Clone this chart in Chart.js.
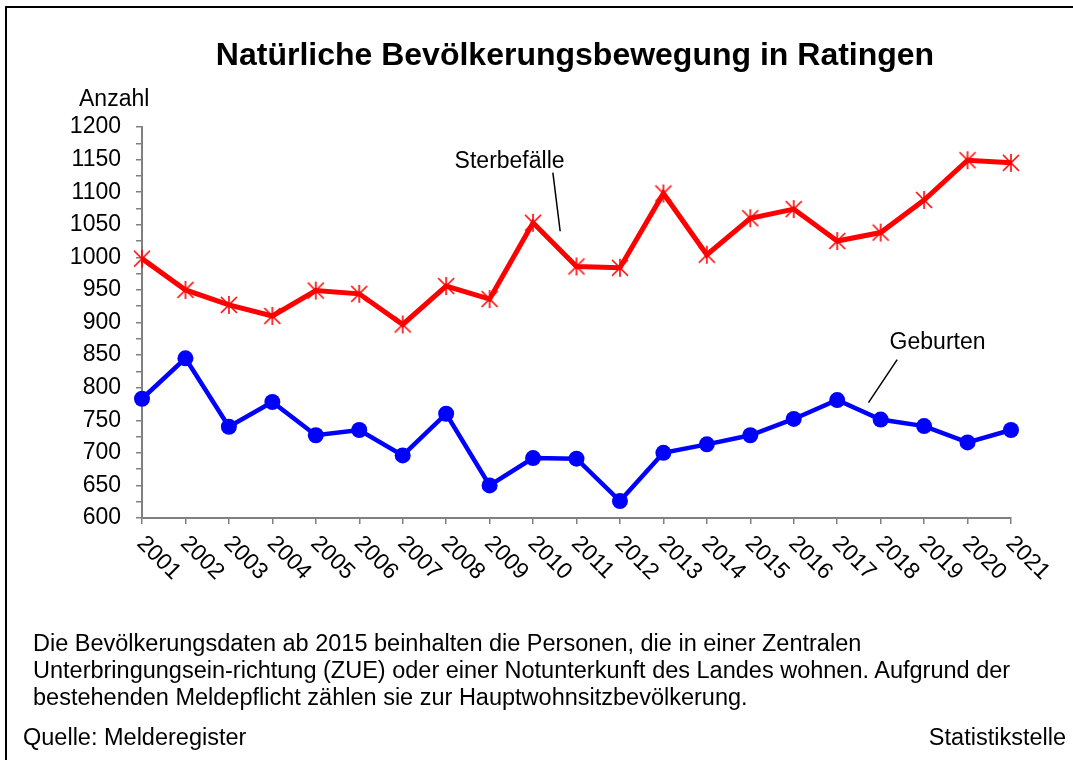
<!DOCTYPE html>
<html>
<head>
<meta charset="utf-8">
<script src="https://cdn.jsdelivr.net/npm/chart.js@4.4.0/dist/chart.umd.min.js"></script>
<style>
body { margin: 0; background: #fff; font-family: Arial, "Liberation Sans", sans-serif; }
#wrap { position: relative; width: 1073px; height: 760px; overflow: hidden; }
#frame { position: absolute; left: 5px; top: 6px; width: 1200px; height: 900px; border-left: 2px solid #000; border-top: 2px solid #000; }
#chart { position: absolute; left: 0; top: 0; }
.note { position: absolute; font-size: 23.5px; line-height: 27px; color: #000; white-space: nowrap; }
</style>
</head>
<body>
<div id="wrap">
  <div id="frame"></div>
  <canvas id="chart" width="1073" height="760"></canvas>
  <div class="note" style="left:33px; top:630px;">
    Die Bevölkerungsdaten ab 2015 beinhalten die Personen, die in einer Zentralen<br>
    Unterbringungsein-richtung (ZUE) oder einer Notunterkunft des Landes wohnen. Aufgrund der<br>
    bestehenden Meldepflicht zählen sie zur Hauptwohnsitzbevölkerung.
  </div>
  <div class="note" style="left:23px; top:724px;">Quelle: Melderegister</div>
  <div class="note" style="right:7px; top:724px;">Statistikstelle</div>
</div>
<script>
var years = ['2001', '2002', '2003', '2004', '2005', '2006', '2007', '2008', '2009', '2010', '2011',
             '2012', '2013', '2014', '2015', '2016', '2017', '2018', '2019', '2020', '2021'];
var sterbefaelle = [998, 950, 927, 910, 949, 944, 897, 956, 936, 1053, 986,
                    984, 1098, 1004, 1060, 1074, 1025, 1038, 1088, 1149, 1145];
var geburten = [783, 845, 740, 778, 727, 735, 696, 760, 650, 692, 691,
                626, 700, 713, 727, 752, 781, 751, 741, 716, 735];
var yTickLabels = [600, 650, 700, 750, 800, 850, 900, 950, 1000, 1050, 1100, 1150, 1200];

var FONT = 'Arial, "Liberation Sans", sans-serif';

// Excel-style star marker: vertical bar plus an X
function makeStar() {
    var c = document.createElement('canvas');
    c.width = 20; c.height = 20;
    var g = c.getContext('2d');
    g.strokeStyle = '#ff0000';
    g.lineWidth = 1.6;
    g.beginPath();
    g.moveTo(10, 1); g.lineTo(10, 19);
    g.moveTo(2, 2); g.lineTo(18, 18);
    g.moveTo(18, 2); g.lineTo(2, 18);
    g.stroke();
    return c;
}

var textPlugin = {
    id: 'texts',
    afterDraw: function (chart) {
        var ctx = chart.ctx;
        var xs = chart.scales.x, ys = chart.scales.y;
        var area = chart.chartArea;
        ctx.save();
        ctx.fillStyle = '#000';

        // title
        ctx.font = 'bold 32px ' + FONT;
        ctx.textAlign = 'center';
        ctx.textBaseline = 'alphabetic';
        ctx.fillText('Natürliche Bevölkerungsbewegung in Ratingen', 575, 65);

        // axis unit
        ctx.font = '23px ' + FONT;
        ctx.textAlign = 'left';
        ctx.fillText('Anzahl', 79, 106);

        // rotated year labels
        ctx.textBaseline = 'middle';
        years.forEach(function (y, i) {
            var px = xs.getPixelForValue(i);
            ctx.save();
            ctx.translate(px - 1.5, area.bottom + 22);
            ctx.rotate(Math.PI / 4);
            ctx.fillText(y, 0, 0);
            ctx.restore();
        });

        // series labels with leader lines
        ctx.textAlign = 'center';
        ctx.textBaseline = 'alphabetic';
        ctx.fillText('Sterbefälle', xs.getPixelForValue(8.46), 168);
        ctx.fillText('Geburten', xs.getPixelForValue(18.31), 349);

        ctx.strokeStyle = '#000';
        ctx.lineWidth = 1.5;
        ctx.beginPath();
        ctx.moveTo(xs.getPixelForValue(9.456), ys.getPixelForValue(1130));
        ctx.lineTo(xs.getPixelForValue(9.624), ys.getPixelForValue(1040));
        ctx.moveTo(xs.getPixelForValue(17.38), ys.getPixelForValue(843));
        ctx.lineTo(xs.getPixelForValue(16.72), ys.getPixelForValue(777));
        ctx.stroke();
        ctx.restore();
    }
};

var ctx = document.getElementById('chart').getContext('2d');
var chart = new Chart(ctx, {
    type: 'line',
    data: {
        labels: years,
        datasets: [{
            label: 'Sterbefälle',
            data: sterbefaelle,
            borderColor: '#ff0000',
            borderWidth: 5,
            pointStyle: makeStar(),
            pointRadius: 10,
            tension: 0
        }, {
            label: 'Geburten',
            data: geburten,
            borderColor: '#0000ff',
            backgroundColor: '#0000ff',
            borderWidth: 4.5,
            pointStyle: 'circle',
            pointRadius: 8,
            pointBorderWidth: 0,
            pointBackgroundColor: '#0000ff',
            tension: 0
        }]
    },
    options: {
        responsive: false,
        animation: false,
        layout: { padding: { top: 127, right: 62, bottom: 202, left: 0 } },
        plugins: {
            legend: { display: false },
            tooltip: { enabled: false },
            title: { display: false }
        },
        scales: {
            x: {
                offset: false,
                grid: { display: true, drawOnChartArea: false, drawTicks: true, tickLength: 6, color: '#808080', lineWidth: 1.5 },
                border: { color: '#808080', width: 2 },
                ticks: { display: false, autoSkip: false },
                afterFit: function (s) { s.height = 40; }
            },
            y: {
                min: 600,
                max: 1200,
                grid: { display: true, drawOnChartArea: false, drawTicks: true, tickLength: 6, color: '#808080', lineWidth: 1.5 },
                border: { color: '#808080', width: 2 },
                ticks: {
                    autoSkip: false,
                    padding: 15,
                    color: '#000',
                    font: { family: FONT, size: 23 },
                    callback: function (v) { return yTickLabels.indexOf(v) >= 0 ? String(v) : ''; }
                },
                afterBuildTicks: function (s) {
                    // labelled ticks every 50 plus an unlabelled tick halfway between
                    var t = [];
                    yTickLabels.forEach(function (v, i) {
                        t.push({ value: v });
                        if (i < yTickLabels.length - 1) t.push({ value: (v + yTickLabels[i + 1]) / 2 });
                    });
                    s.ticks = t;
                },
                afterFit: function (s) { s.width = 142; }
            }
        }
    },
    plugins: [textPlugin]
});
</script>
</body>
</html>
